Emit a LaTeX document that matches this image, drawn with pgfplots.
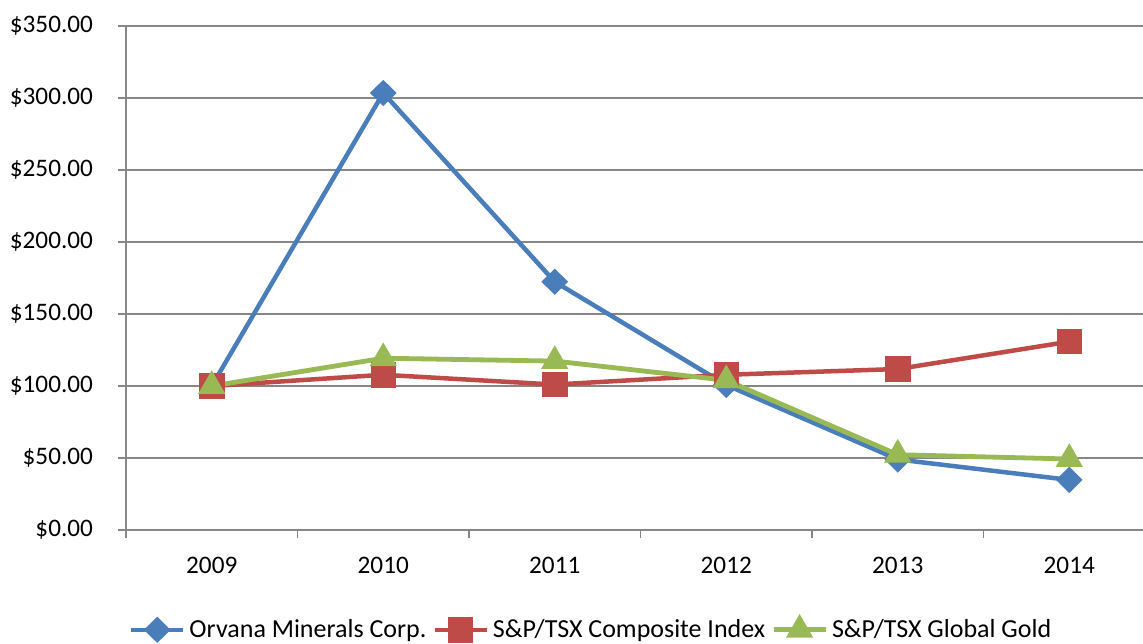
\documentclass[border=0pt]{standalone}
\usepackage{fontspec}
\setmainfont{Carlito}
\usepackage{pgfplots}
\pgfplotsset{compat=1.18}
\definecolor{cblue}{HTML}{4A7EBB}
\definecolor{cred}{HTML}{BE4B48}
\definecolor{cgreen}{HTML}{98B954}
\definecolor{agray}{HTML}{868686}
\begin{document}
\begin{tikzpicture}
\begin{axis}[
  at={(0,0)}, anchor=south west,
  scale only axis, width=514.5pt, height=252pt,
  xmin=-0.5, xmax=5.5, ymin=0, ymax=350,
  axis x line*=bottom, axis y line*=left,
  axis line style={-, draw=agray, line width=0.75pt},
  xtick={-0.5,0.5,1.5,2.5,3.5,4.5,5.5},
  xticklabels={2009,2010,2011,2012,2013,2014},
  x tick label as interval,
  ytick={0,50,...,350},
  yticklabels={\$0.00,\$50.00,\$100.00,\$150.00,\$200.00,\$250.00,\$300.00,\$350.00},
  ymajorgrids,
  grid style={draw=agray, line width=0.75pt},
  tick style={draw=agray, line width=0.75pt},
  tick align=outside, major tick length=4pt,
  /pgf/number format/assume math mode=true,
  ticklabel style={font=\fontsize{12.6}{15}\selectfont},
  yticklabel style={xshift=-9pt},
  xticklabel style={yshift=-6pt},
  legend columns=3,
  legend style={at={(0.453,-0.198)}, anchor=center, draw=none, fill=none,
    font=\fontsize{13}{15}\selectfont,
    /tikz/every even column/.append style={column sep=1pt},
    /tikz/every odd column/.append style={column sep=0pt}},
  legend image code/.code={\draw[mark repeat=2,mark phase=2,#1] plot coordinates {(0pt,0pt)(13pt,0pt)(26pt,0pt)};},
]
\addplot[color=cblue, line width=2.25pt, mark=diamond*, mark size=5pt, mark options={solid, xscale=1.35}]
  coordinates {(0,100) (1,303.5) (2,172.4) (3,100.7) (4,49) (5,34.8)};
\addlegendentry{Orvana Minerals Corp.}
\addplot[color=cred, line width=2.25pt, mark=square*, mark size=5.25pt, mark options={solid}]
  coordinates {(0,100) (1,107.8) (2,101) (3,107.8) (4,111.8) (5,130.8)};
\addlegendentry{S\&P/TSX Composite Index}
\addplot[color=cgreen, line width=2.4pt, mark=triangle*, mark size=5.5pt, mark options={solid}]
  coordinates {(0,100) (1,119.3) (2,117.3) (3,104) (4,52.3) (5,49.3)};
\addlegendentry{S\&P/TSX Global Gold}
\end{axis}
\pgfresetboundingbox
\useasboundingbox (-63pt,-56.5pt) rectangle (508.5pt,265pt);
\end{tikzpicture}
\end{document}
